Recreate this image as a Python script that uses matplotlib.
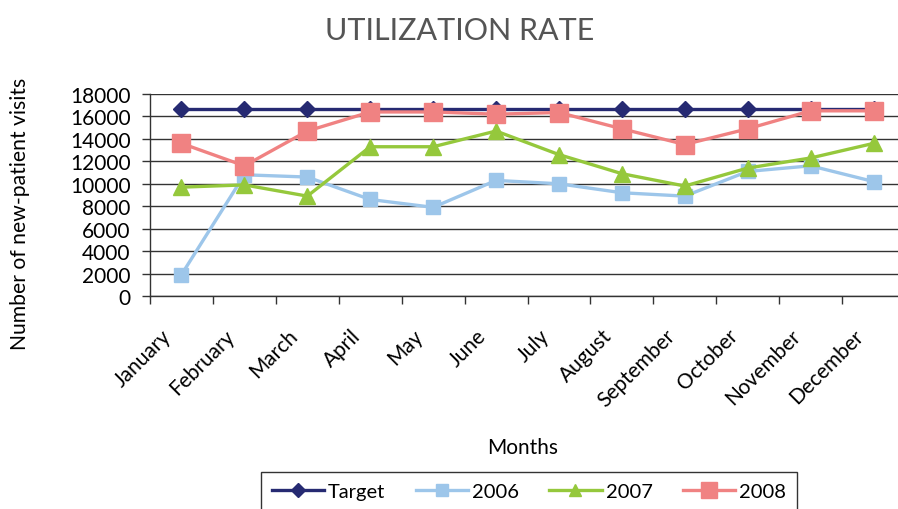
import numpy as np
import matplotlib
matplotlib.use('Agg')
import matplotlib.pyplot as plt
import matplotlib.transforms as mtransforms
from matplotlib.ticker import FixedLocator, NullFormatter


months = ['January', 'February', 'March', 'April', 'May', 'June', 'July',
          'August', 'September', 'October', 'November', 'December']
target = [16700] * 12
y2006 = [1900, 10800, 10600, 8600, 7900, 10300, 10000, 9200, 8900, 11100,
         11600, 10200]
y2007 = [9700, 9900, 8900, 13300, 13300, 14700, 12600, 10900, 9800, 11400,
         12300, 13600]
y2008 = [13600, 11600, 14700, 16400, 16400, 16200, 16350, 14900, 13500,
         14900, 16500, 16500]
yticks = list(range(0, 18001, 2000))

plt.rcParams['font.family'] = ['Lato', 'DejaVu Sans']

fig = plt.figure(figsize=(8.98, 5.10), dpi=100)
ax = fig.add_axes([150 / 898, 213 / 510, 755 / 898, 202 / 510])

x = np.arange(len(months))
ax.plot(x, target, color='#262a72', lw=2.4, marker='D', ms=8,
        label='Target', zorder=3)
ax.plot(x, y2006, color='#9dc6ea', lw=2.4, marker='s', ms=9.5,
        label='2006', zorder=4)
ax.plot(x, y2007, color='#95c83c', lw=2.4, marker='^', ms=11,
        label='2007', zorder=5)
ax.plot(x, y2008, color='#f08282', lw=2.4, marker='s', ms=13,
        label='2008', zorder=6)

ax.set_xlim(-0.5, 11.5)
ax.set_ylim(0, 18000)
ax.set_yticks(yticks)
ax.set_yticklabels([str(v) for v in yticks], fontsize=15)
ax.yaxis.grid(True, color='#333333', lw=1)
ax.set_axisbelow(True)

# labels at category centres, tick marks between categories
ax.set_xticks(x)
ax.set_xticklabels(months, rotation=45, ha='right', fontsize=15)
ax.tick_params(axis='x', which='major', length=0, pad=21)
shift = mtransforms.ScaledTranslation(-6 / 100, 0, fig.dpi_scale_trans)
for lab in ax.get_xticklabels():
    lab.set_transform(lab.get_transform() + shift)
ax.xaxis.set_minor_locator(FixedLocator(np.arange(-0.5, 12, 1)))
ax.xaxis.set_minor_formatter(NullFormatter())
ax.tick_params(axis='x', which='minor', length=6, width=1, color='#333333')
ax.tick_params(axis='y', length=6, width=1, color='#333333', pad=8)

for s in ['top', 'right']:
    ax.spines[s].set_visible(False)
for s in ['left', 'bottom']:
    ax.spines[s].set_color('#333333')
    ax.spines[s].set_linewidth(1)

ax.set_xlabel('Months', fontsize=15)
ax.xaxis.set_label_coords((523 - 150) / 755, -(438 - 297) / 202)
ax.set_ylabel('Number of new-patient visits', fontsize=15.2)
ax.yaxis.set_label_coords(-(150 - 30) / 755, 0.41)

fig.text(0.512, 0.94, 'UTILIZATION RATE', ha='center', va='center',
         fontsize=22, color='#555555')

leg = fig.legend(loc='upper center', bbox_to_anchor=(0.589, 1 - 473 / 510),
                 ncol=4, fontsize=14.5, frameon=True, fancybox=False,
                 edgecolor='black', handlelength=2.6, columnspacing=1.5,
                 handletextpad=0.2, borderpad=0.55, borderaxespad=0,
                 markerscale=0.85)
leg.get_frame().set_linewidth(1)

fig.savefig('out.png', dpi=100)
